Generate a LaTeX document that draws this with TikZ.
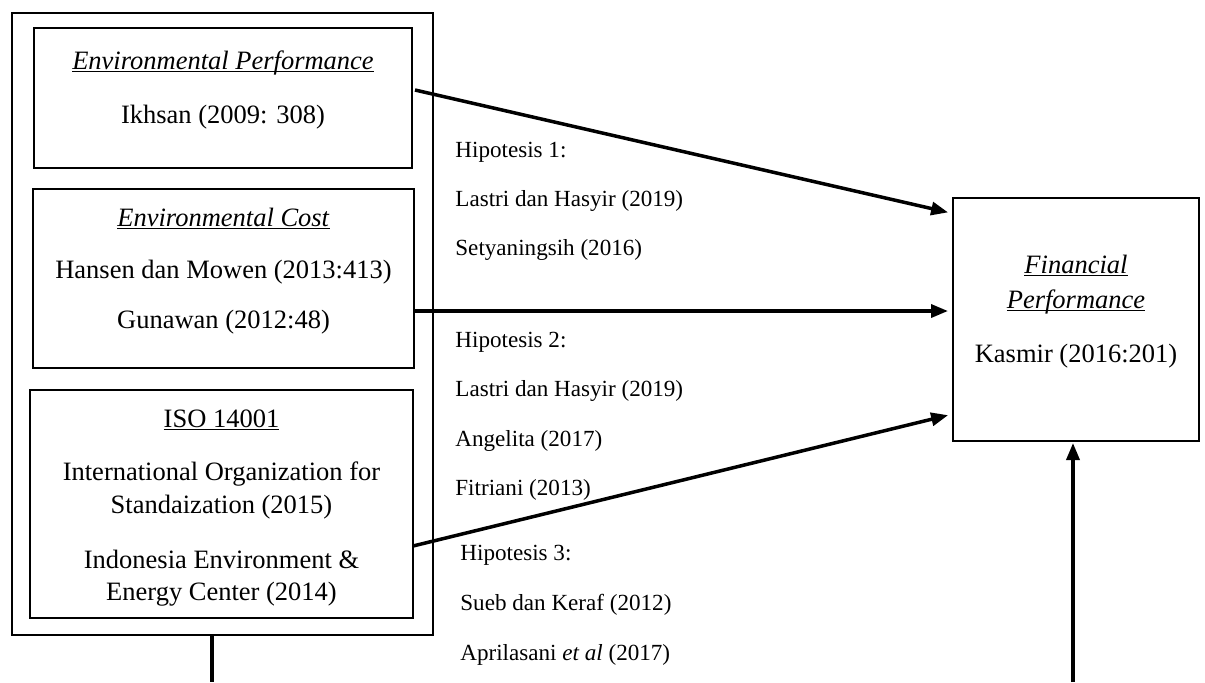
\documentclass[tikz,border=0pt]{standalone}
\usepackage{fontspec}
\setmainfont{Liberation Serif}
\usetikzlibrary{arrows.meta}
\newcommand{\ulin}[1]{\underline{\smash{#1}}}
\begin{document}
\begin{tikzpicture}[x=0.5pt,y=-0.5pt,
  box/.style={draw, line width=1.25pt, inner sep=0pt, outer sep=0pt},
  outerbox/.style={draw, line width=1.4pt, inner sep=0pt, outer sep=0pt},
  bt/.style={font=\fontsize{13.25}{15}\selectfont, anchor=base, inner sep=0pt},
  ht/.style={font=\fontsize{11.55}{14}\selectfont, anchor=base west, inner sep=0pt},
  arr/.style={line width=1.75pt, -{Triangle[length=8.5pt,width=6.5pt]}},
  conn/.style={line width=1.75pt}]
\useasboundingbox (0,0) rectangle (1205,682);

% outer frame and boxes
\node[outerbox, minimum width=210.5pt, minimum height=311pt] (outer) at (222.5,324) {};
\node[box, minimum width=189pt, minimum height=70pt] (b1) at (223,98) {};
\node[box, minimum width=190.5pt, minimum height=89.5pt] (b2) at (223.5,278.5) {};
\node[box, minimum width=191.5pt, minimum height=114pt] (b3) at (221.5,504) {};
\node[box, minimum width=123pt, minimum height=121.5pt] (fin) at (1076,319.5) {};

% box texts
\node[bt] (t1a) at (223,69) {\ulin{\textit{Environmental Performance}}};
\node[bt] (t1b) at (223,123) {Ikhsan (2009: 308)};
\node[bt] (t2a) at (223.5,226) {\ulin{\textit{Environmental Cost}}};
\node[bt] (t2b) at (223.5,278) {Hansen dan Mowen (2013:413)};
\node[bt] (t2c) at (223.5,328) {Gunawan (2012:48)};
\node[bt] (t3a) at (221.5,427) {\ulin{ISO 14001}};
\node[bt] (t3b) at (221.5,480) {International Organization for};
\node[bt] (t3c) at (221.5,513) {Standaization (2015)};
\node[bt] (t3d) at (221.5,568) {Indonesia Environment \&};
\node[bt] (t3e) at (221.5,600) {Energy Center (2014)};
\node[bt] (f1) at (1076,273) {\ulin{\textit{Financial}}};
\node[bt] (f2) at (1076,308) {\ulin{\textit{Performance}}};
\node[bt] (f3) at (1076,362) {Kasmir (2016:201)};

% hypothesis texts
\node[ht] (h1) at (455,157) {Hipotesis 1:};
\node[ht] (h1a) at (455,206) {Lastri dan Hasyir (2019)};
\node[ht] (h1b) at (455,255) {Setyaningsih (2016)};
\node[ht] (h2) at (455,347) {Hipotesis 2:};
\node[ht] (h2a) at (455,396) {Lastri dan Hasyir (2019)};
\node[ht] (h2b) at (455,446) {Angelita (2017)};
\node[ht] (h2c) at (455,495) {Fitriani (2013)};
\node[ht] (h3) at (460,560) {Hipotesis 3:};
\node[ht] (h3a) at (460,610) {Sueb dan Keraf (2012)};
\node[ht] (h3b) at (460,660) {Aprilasani \textit{et al} (2017)};

% connectors
\coordinate (botL) at (212,682);
\coordinate (botR) at (1073,682);
\draw[arr, shorten >=2.5pt] ([xshift=1.5pt,yshift=4pt]b1.east) -- ([yshift=53pt]fin.west);
\draw[arr, shorten >=2.5pt] ([yshift=-16.25pt]b2.east) -- ([yshift=4.25pt]fin.west);
\draw[arr, shorten >=2.5pt] ([yshift=-21pt]b3.east) -- ([yshift=-47.25pt]fin.west);
\draw[conn] (outer.south -| botL) -- (botL);
\draw[arr, shorten >=1pt] (botR) -- (fin.south -| botR);
\end{tikzpicture}
\end{document}
